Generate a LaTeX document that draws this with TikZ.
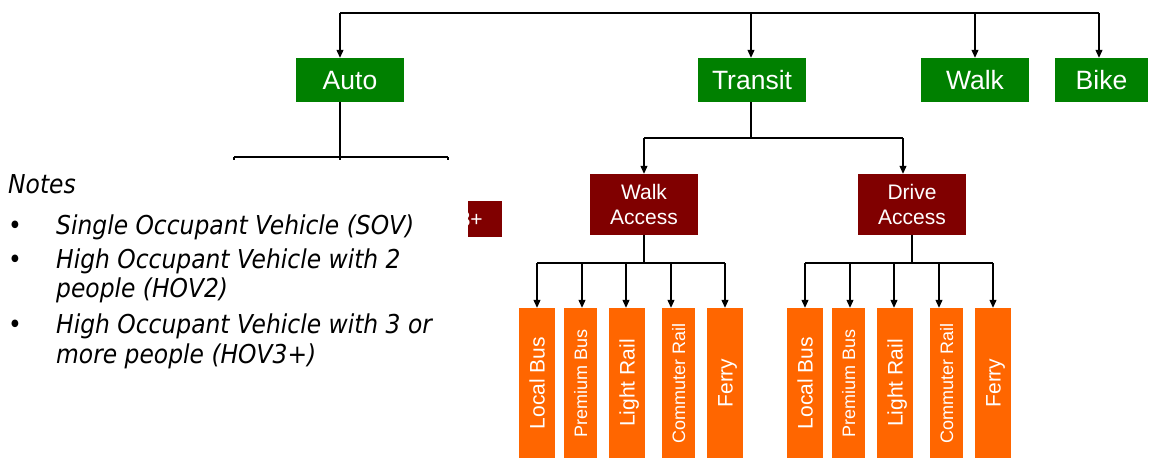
\documentclass[tikz,border=0pt]{standalone}
\usepackage{fontspec}
\setmainfont{Liberation Sans}
\newfontfamily\notesfont[FakeStretch=0.9]{DejaVu Sans}
\usetikzlibrary{arrows.meta}
\definecolor{cgreen}{RGB}{0,128,0}
\definecolor{cmaroon}{RGB}{128,0,0}
\definecolor{corange}{RGB}{255,102,0}
\begin{document}
\begin{tikzpicture}[x=1pt,y=-1pt,
  line/.style={draw=black, line width=1.1pt},
  arr/.style={line, -{Triangle[length=8pt,width=7pt]}},
  gbox/.style={fill=cgreen, text=white, inner sep=0pt, minimum height=44pt,
    font=\fontsize{26.5}{31}\selectfont, text height=19pt, text depth=0pt},
  mbox/.style={fill=cmaroon, text=white, inner sep=0pt, align=center,
    font=\fontsize{21}{25}\selectfont},
  obox/.style={fill=corange, text=white, inner sep=0pt, minimum width=150pt,
    rotate=90, text height=15pt, text depth=0pt, font=\fontsize{21}{25}\selectfont},
  osmall/.style={obox, text height=13pt, font=\fontsize{18}{22}\selectfont},
  note/.style={anchor=base west, inner sep=0pt, text=black,
    font=\notesfont\itshape\fontsize{26}{30}\selectfont}
]
\useasboundingbox (0,0) rectangle (1154,458);
\fill[white] (0,0) rectangle (1154,458);

% top level
\node[gbox, minimum width=108pt] (auto) at (350,80) {Auto};
\node[gbox, minimum width=108pt] (transit) at (752,80) {Transit};
\node[gbox, minimum width=108pt] (walk) at (975,80) {Walk};
\node[gbox, minimum width=93pt] (bike) at (1101.5,80) {Bike};

\coordinate (t1) at (340,13);
\coordinate (t2) at (751,13);
\coordinate (t3) at (975,13);
\coordinate (t4) at (1099,13);
\draw[line] (t1) -- (t4);
\draw[arr] (t1) -- (t1 |- auto.north);
\draw[arr] (t2) -- (t2 |- transit.north);
\draw[arr] (t3) -- (walk.north);
\draw[arr] (t4) -- (t4 |- bike.north);

% auto subtree (mostly hidden by the notes)
\coordinate (a0) at (340,157);
\coordinate (a1) at (234,157);
\coordinate (a3) at (448,157);
\coordinate (sov) at (234,201);
\coordinate (hov2) at (340,201);
\node[mbox, minimum width=108pt, minimum height=36pt] (hov3) at (448,219) {HOV3+};
\draw[line] (t1 |- auto.south) -- (a0);
\draw[line] (a1) -- (a3);
\draw[arr] (a1) -- (sov);
\draw[arr] (a0) -- (hov2);
\draw[arr] (a3) -- (hov3.north);
\fill[white] (0,160) rectangle (468,458);

% transit subtree
\coordinate (tr0) at (751,138);
\coordinate (tr1) at (644,138);
\coordinate (tr2) at (903,138);
\node[mbox, minimum width=108pt, minimum height=61pt] (wa) at (644,204.5) {Walk\\Access};
\node[mbox, minimum width=108pt, minimum height=61pt] (da) at (912,204.5) {Drive\\Access};
\draw[line] (t2 |- transit.south) -- (tr0);
\draw[line] (tr1) -- (tr2);
\draw[arr] (tr1) -- (wa.north);
\draw[arr] (tr2) -- (tr2 |- da.north);

% walk access modes
\node[obox, minimum height=36pt] (wlb) at (537,383) {Local Bus};
\node[osmall, minimum height=33pt] (wpb) at (580.5,383) {Premium Bus};
\node[obox, minimum height=36pt] (wlr) at (627,383) {Light Rail};
\node[osmall, minimum height=33pt] (wcr) at (678.5,383) {Commuter Rail};
\node[obox, minimum height=36pt] (wf) at (725,383) {Ferry};
\coordinate (w0) at (644,263);
\coordinate (w1) at (537,263);
\coordinate (w2) at (582,263);
\coordinate (w3) at (626,263);
\coordinate (w4) at (671,263);
\coordinate (w5) at (725,263);
\draw[line] (wa.south) -- (w0);
\draw[line] (w1) -- (w5);
\draw[arr] (w1) -- (w1 |- wlb.east);
\draw[arr] (w2) -- (w2 |- wpb.east);
\draw[arr] (w3) -- (w3 |- wlr.east);
\draw[arr] (w4) -- (w4 |- wcr.east);
\draw[arr] (w5) -- (w5 |- wf.east);

% drive access modes
\node[obox, minimum height=36pt] (dlb) at (805,383) {Local Bus};
\node[osmall, minimum height=33pt] (dpb) at (848.5,383) {Premium Bus};
\node[obox, minimum height=36pt] (dlr) at (895,383) {Light Rail};
\node[osmall, minimum height=33pt] (dcr) at (946.5,383) {Commuter Rail};
\node[obox, minimum height=36pt] (df) at (993,383) {Ferry};
\coordinate (d0) at (912,263);
\coordinate (d1) at (805,263);
\coordinate (d2) at (850,263);
\coordinate (d3) at (894,263);
\coordinate (d4) at (939,263);
\coordinate (d5) at (993,263);
\draw[line] (da.south) -- (d0);
\draw[line] (d1) -- (d5);
\draw[arr] (d1) -- (d1 |- dlb.east);
\draw[arr] (d2) -- (d2 |- dpb.east);
\draw[arr] (d3) -- (d3 |- dlr.east);
\draw[arr] (d4) -- (d4 |- dcr.east);
\draw[arr] (d5) -- (d5 |- df.east);

% notes
\node[note] (notes) at (8,193) {Notes};
\node[note] (b1) at (8,234) {•};
\node[note] (l1) at (56,234) {Single Occupant Vehicle (SOV)};
\node[note] (b2) at (8,268) {•};
\node[note] (l2) at (56,268) {High Occupant Vehicle with 2};
\node[note] (l3) at (56,297) {people (HOV2)};
\node[note] (b3) at (8,333) {•};
\node[note] (l4) at (56,333) {High Occupant Vehicle with 3 or};
\node[note] (l5) at (56,363) {more people (HOV3+)};
\end{tikzpicture}
\end{document}
